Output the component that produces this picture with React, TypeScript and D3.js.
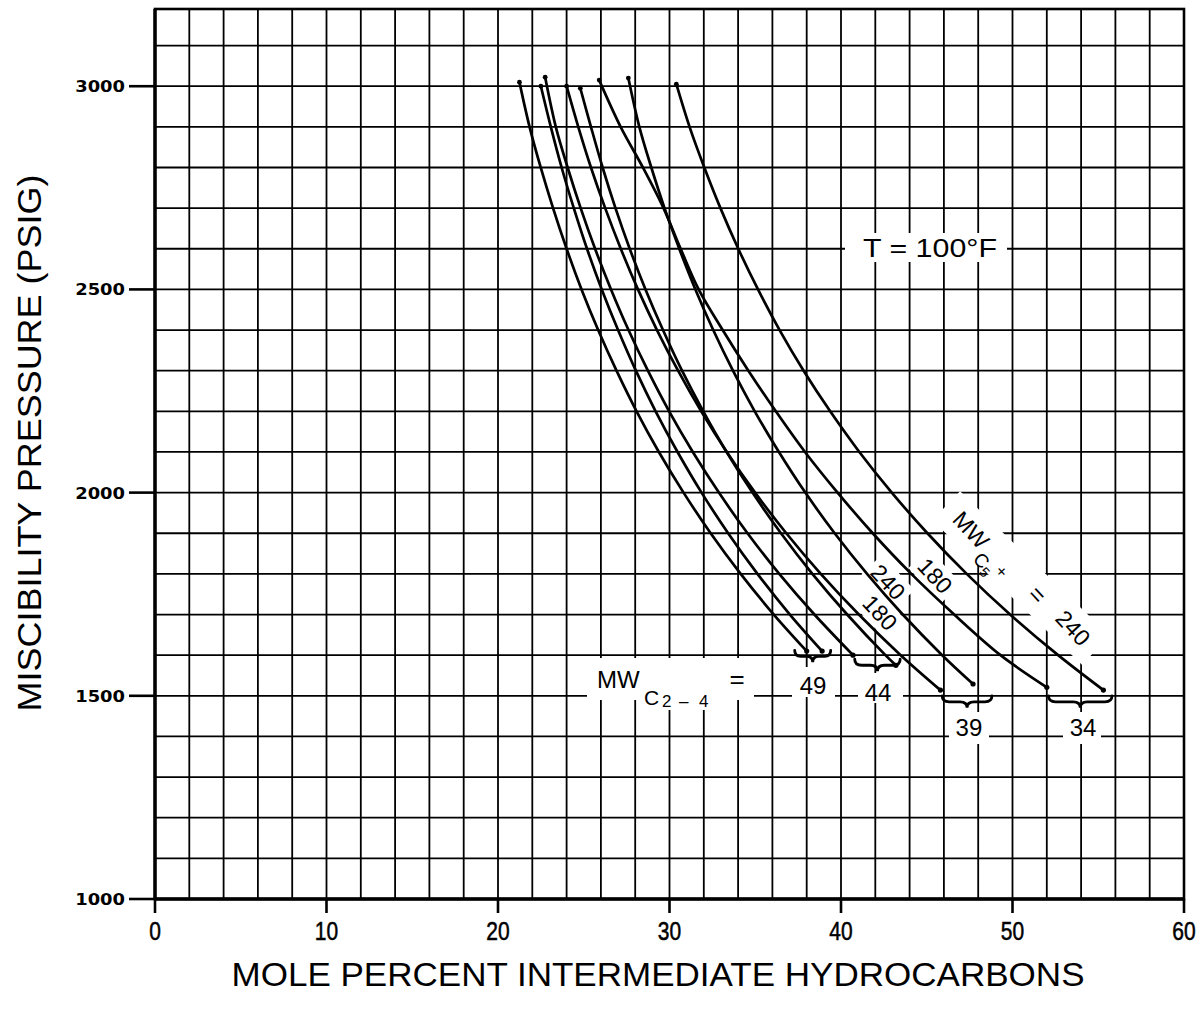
import React from 'react';
import * as d3 from 'd3';

// ---------- data ----------
const xTickValues = [0, 10, 20, 30, 40, 50, 60];
const yTickValues = [1000, 1500, 2000, 2500, 3000];

const P_49_180 = [3010, 2900, 2800, 2700, 2600, 2500, 2400, 2300, 2200, 2100, 2000, 1900, 1800, 1700, 1610];
const X_49_180 = [21.25, 21.84, 22.49, 23.21, 24.0, 24.87, 25.84, 26.91, 28.08, 29.38, 30.82, 32.4, 34.15, 36.08, 38.0];

const P_49_240 = [3000, 2900, 2800, 2700, 2600, 2500, 2400, 2300, 2200, 2100, 2000, 1900, 1800, 1700, 1610];
const X_49_240 = [22.5, 23.08, 23.71, 24.42, 25.19, 26.05, 27.0, 28.04, 29.19, 30.47, 31.87, 33.42, 35.13, 37.02, 38.9];

const P_44_180 = [3022, 2900, 2800, 2700, 2600, 2500, 2400, 2300, 2200, 2100, 2000, 1900, 1800, 1700, 1600];
const X_44_180 = [22.75, 23.37, 24.06, 24.82, 25.66, 26.59, 27.61, 28.74, 29.98, 31.36, 32.88, 34.55, 36.4, 38.45, 40.7];

const P_44_240 = [2995, 2900, 2800, 2700, 2600, 2500, 2400, 2300, 2200, 2100, 2000, 1900, 1800, 1700, 1600, 1575];
const X_44_240 = [24.8, 25.42, 26.1, 26.85, 27.68, 28.6, 29.62, 30.73, 31.97, 33.33, 34.84, 36.5, 38.33, 40.36, 42.59, 43.2];

const P_39_180 = [3000, 2900, 2800, 2700, 2600, 2500, 2400, 2300, 2200, 2100, 2000, 1900, 1800, 1700, 1600, 1514];
const X_39_180 = [24.0, 24.68, 25.42, 26.25, 27.16, 28.16, 29.27, 30.5, 31.85, 33.34, 34.99, 36.81, 38.82, 41.04, 43.48, 45.8];

const P_39_240 = [3020, 2900, 2800, 2700, 2600, 2500, 2400, 2300, 2200, 2100, 2000, 1900, 1800, 1700, 1600, 1529];
const X_39_240 = [27.6, 28.24, 28.94, 29.71, 30.57, 31.51, 32.55, 33.7, 34.97, 36.38, 37.92, 39.63, 41.52, 43.6, 45.9, 47.7];

const P_34_180 = [3015, 2900, 2800, 2700, 2600, 2500, 2400, 2300, 2200, 2100, 2000, 1900, 1800, 1700, 1600, 1521];
const X_34_180 = [25.9, 27.15, 28.45, 29.65, 30.65, 31.7, 33.1, 34.6, 36.2, 37.9, 39.8, 41.85, 44.1, 46.6, 49.3, 52.0];

const P_34_240 = [3005, 2900, 2800, 2700, 2600, 2500, 2400, 2300, 2200, 2100, 2000, 1900, 1800, 1700, 1600, 1514];
const X_34_240 = [30.4, 31.17, 32.03, 32.97, 34.01, 35.16, 36.42, 37.82, 39.37, 41.07, 42.96, 45.04, 47.33, 49.86, 52.66, 55.3];

const curves = [
  { id: '49-180', p: P_49_180, x: X_49_180 },
  { id: '49-240', p: P_49_240, x: X_49_240 },
  { id: '44-180', p: P_44_180, x: X_44_180 },
  { id: '44-240', p: P_44_240, x: X_44_240 },
  { id: '39-180', p: P_39_180, x: X_39_180 },
  { id: '39-240', p: P_39_240, x: X_39_240 },
  { id: '34-180', p: P_34_180, x: X_34_180 },
  { id: '34-240', p: P_34_240, x: X_34_240 },
];

// group labels (MW C2-4) and braces, in data units
const groupLabels = ['49', '44', '39', '34'];
const groupLabelX = [38.37, 42.16, 47.46, 54.11];
const groupLabelP = [1526, 1509, 1423, 1423];
const braceX1 = [37.3, 40.8, 45.9, 52.1];
const braceX2 = [39.4, 43.45, 48.8, 55.8];
const braceP = [1612, 1590, 1500, 1500];

// MW C5+ labels along curves
const c5Labels = ['240', '180', '180'];
const c5LabelX = [42.74, 42.27, 45.48];
const c5LabelP = [1780, 1704, 1795];

// ---------- layout ----------
const W = 1202;
const H = 1015;
const xScale = d3.scaleLinear().domain([0, 60]).range([155, 1184]);
const yScale = d3.scaleLinear().domain([1000, 3190]).range([899, 9]);

const FONT = "'Liberation Sans', Arial, Helvetica, sans-serif";
const ROT = 47;

function bracePath(x1: number, x2: number, y: number, h: number) {
  const xm = (x1 + x2) / 2;
  const q = Math.min(7, (x2 - x1) / 6);
  const ym = y + h / 2;
  return `M${x1},${y} Q${x1},${ym} ${x1 + q},${ym} L${xm - q},${ym} Q${xm},${ym} ${xm},${y + h} Q${xm},${ym} ${xm + q},${ym} L${x2 - q},${ym} Q${x2},${ym} ${x2},${y}`;
}

export default function App() {
  const line = d3
    .line<[number, number]>()
    .x((d) => xScale(d[0]))
    .y((d) => yScale(d[1]))
    .curve(d3.curveCatmullRom.alpha(0.5));

  const xGrid = d3.range(2, 60, 2);
  const yGrid = d3.range(1100, 3200, 100);
  const x0 = xScale(0);
  const x1 = xScale(60);
  const yTop = yScale(3190);
  const yBot = yScale(1000);

  return (
    <svg
      width={W}
      height={H}
      viewBox={`0 0 ${W} ${H}`}
      style={{ position: 'absolute', left: 0, top: 0, background: '#fff' }}
    >
      <rect x={0} y={0} width={W} height={H} fill="#fff" />

      {/* grid */}
      <g stroke="#000" strokeWidth={1.8}>
        {xGrid.map((v) => (
          <line key={'gx' + v} x1={xScale(v)} x2={xScale(v)} y1={yTop} y2={yBot} />
        ))}
        {yGrid.map((v) => (
          <line key={'gy' + v} x1={x0} x2={x1} y1={yScale(v)} y2={yScale(v)} />
        ))}
      </g>

      {/* white label backgrounds breaking the grid */}
      <g fill="#fff">
        <rect x={845} y={233} width={162} height={29} />
        <rect x={587} y={658} width={167} height={42} />
        <rect x={640} y={686} width={72} height={24} />
        <rect x={792} y={667} width={43} height={30} />
        <rect x={858} y={673} width={45} height={30} />
        <rect x={949} y={712} width={40} height={32} />
        <rect x={1063} y={712} width={38} height={32} />
        {c5Labels.map((t, i) => (
          <rect
            key={'cb' + i}
            x={-24}
            y={-14}
            width={48}
            height={28}
            transform={`translate(${xScale(c5LabelX[i])},${yScale(c5LabelP[i])}) rotate(${ROT})`}
          />
        ))}
        <rect x={-104} y={-20} width={208} height={40} transform={`translate(1021,578) rotate(44)`} />
      </g>

      {/* frame and axes */}
      <rect x={x0} y={yTop} width={x1 - x0} height={yBot - yTop} fill="none" stroke="#000" strokeWidth={2.6} />
      <line x1={x0} x2={x0} y1={yTop} y2={yBot + 1} stroke="#000" strokeWidth={3.4} />
      <line x1={x0 - 1} x2={x1} y1={yBot} y2={yBot} stroke="#000" strokeWidth={3.4} />

      {/* x ticks */}
      {xTickValues.map((v) => (
        <g key={'xt' + v}>
          <line x1={xScale(v)} x2={xScale(v)} y1={yBot} y2={yBot + 14} stroke="#000" strokeWidth={2.6} />
          <text
            transform={`translate(${xScale(v)},940) scale(0.84,1)`}
            textAnchor="middle"
            fontFamily={FONT}
            fontSize={25}
            stroke="#000"
            strokeWidth={0.5}
            fill="#000"
          >
            {v}
          </text>
        </g>
      ))}

      {/* y ticks */}
      {yTickValues.map((v) => (
        <g key={'yt' + v}>
          <line x1={x0 - 26} x2={x0} y1={yScale(v)} y2={yScale(v)} stroke="#000" strokeWidth={2.6} />
          <text
            transform={`translate(125,${yScale(v) + 6}) scale(1.12,1)`}
            textAnchor="end"
            fontFamily="'DejaVu Sans', Verdana, sans-serif"
            fontWeight="bold"
            fontSize={16}
            fill="#000"
          >
            {v}
          </text>
        </g>
      ))}

      {/* axis titles */}
      <text
        transform={`translate(41,443) rotate(-90)`}
        textAnchor="middle"
        fontFamily={FONT}
        fontSize={33}
        textLength={537}
        lengthAdjust="spacingAndGlyphs"
        fill="#000"
      >
        MISCIBILITY PRESSURE (PSIG)
      </text>
      <text
        x={658}
        y={986}
        textAnchor="middle"
        fontFamily={FONT}
        fontSize={34}
        textLength={853}
        lengthAdjust="spacingAndGlyphs"
        fill="#000"
      >
        MOLE PERCENT INTERMEDIATE HYDROCARBONS
      </text>

      {/* curves */}
      <g fill="none" stroke="#000" strokeWidth={2.7} strokeLinecap="round" strokeLinejoin="round">
        {curves.map((c) => {
          const pts = c.x.map((xv, i) => [xv, c.p[i]] as [number, number]);
          return <path key={c.id} d={line(pts) || ''} />;
        })}
      </g>
      <g fill="#000">
        {curves.map((c) => {
          const n = c.x.length - 1;
          return (
            <g key={'d' + c.id}>
              <circle cx={xScale(c.x[0])} cy={yScale(c.p[0])} r={2.4} />
              <circle cx={xScale(c.x[n])} cy={yScale(c.p[n])} r={2.6} />
            </g>
          );
        })}
      </g>

      {/* braces */}
      <g fill="none" stroke="#000" strokeWidth={2.8} strokeLinecap="round">
        {braceX1.map((bx, i) => (
          <path key={'br' + i} d={bracePath(xScale(bx), xScale(braceX2[i]), yScale(braceP[i]), 12)} />
        ))}
      </g>

      {/* texts */}
      <g fontFamily={FONT} fill="#000">
        <text x={930} y={257} textAnchor="middle" fontSize={25} textLength={134} lengthAdjust="spacingAndGlyphs">
          T = 100°F
        </text>
        <text x={597} y={688} fontSize={24}>MW</text>
        <text x={644} y={705} fontSize={21}>C</text>
        <text x={662} y={707} fontSize={17}>2</text>
        <text x={679} y={707} fontSize={17}>–</text>
        <text x={699} y={707} fontSize={17}>4</text>
        <text x={737} y={688} textAnchor="middle" fontSize={26}>=</text>
        {groupLabels.map((t, i) => (
          <text
            key={'gl' + i}
            x={xScale(groupLabelX[i])}
            y={yScale(groupLabelP[i]) + 8.5}
            textAnchor="middle"
            fontSize={24}
          >
            {t}
          </text>
        ))}
        {c5Labels.map((t, i) => (
          <text
            key={'cl' + i}
            transform={`translate(${xScale(c5LabelX[i])},${yScale(c5LabelP[i])}) rotate(${ROT})`}
            textAnchor="middle"
            dy={8}
            fontSize={23}
          >
            {t}
          </text>
        ))}
        <text transform={`translate(971,530) rotate(${ROT})`} textAnchor="middle" dy={8} fontSize={23}>
          MW
        </text>
        <text transform={`translate(972,560) rotate(${ROT})`} fontSize={19}>
          C<tspan fontSize={14} dy={4}>5</tspan>
          <tspan fontSize={17} dy={-12} dx={2}>+</tspan>
        </text>
        <text transform={`translate(1037,595) rotate(${ROT})`} textAnchor="middle" dy={8} fontSize={24}>
          =
        </text>
        <text transform={`translate(1073,628) rotate(${ROT})`} textAnchor="middle" dy={8} fontSize={23}>
          240
        </text>
      </g>
    </svg>
  );
}
